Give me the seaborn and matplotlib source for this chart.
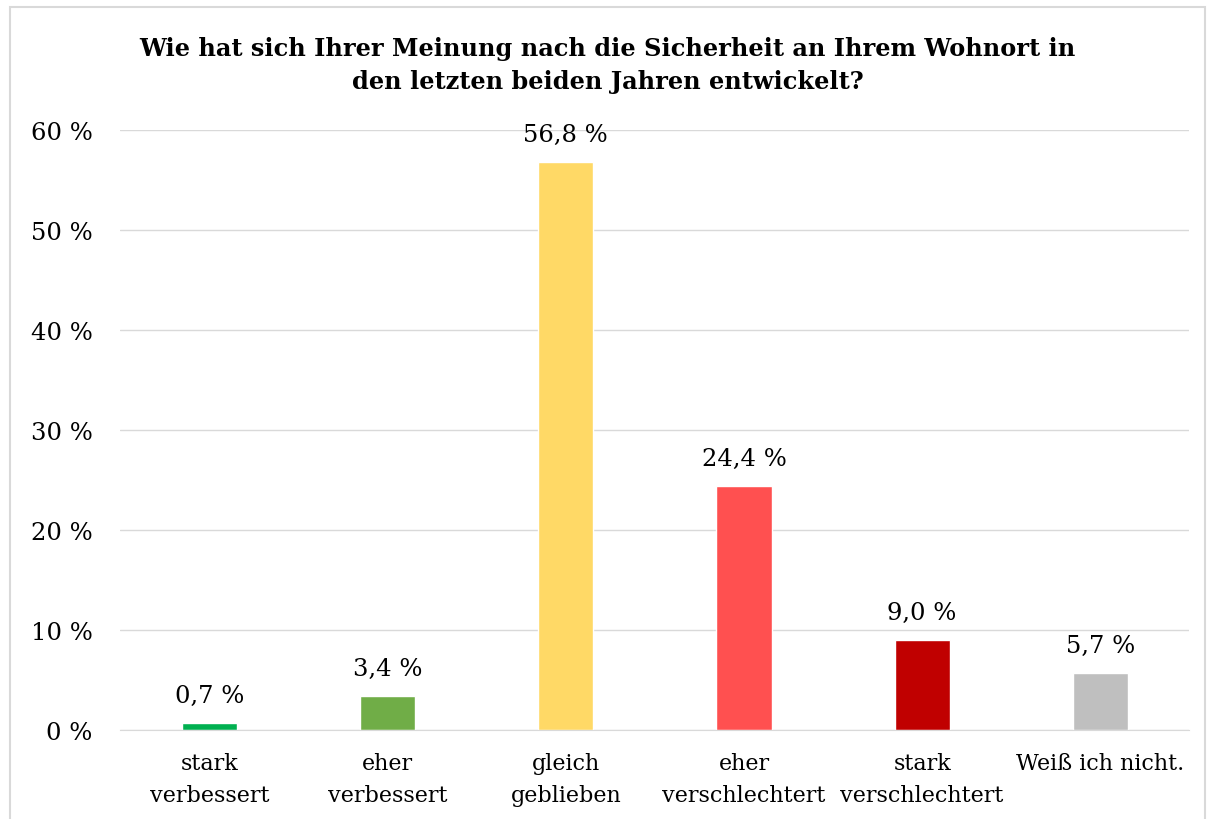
import matplotlib
matplotlib.use("Agg")
import matplotlib.pyplot as plt
import pandas as pd
import seaborn as sns

categories = ["stark\nverbessert", "eher\nverbessert", "gleich\ngeblieben",
              "eher\nverschlechtert", "stark\nverschlechtert", "Weiß ich nicht."]
values = [0.7, 3.4, 56.8, 24.4, 9.0, 5.7]
colors = ["#00B050", "#70AD47", "#FFD966", "#FF5050", "#C00000", "#BFBFBF"]
yticks = [0, 10, 20, 30, 40, 50, 60]
title = "Wie hat sich Ihrer Meinung nach die Sicherheit an Ihrem Wohnort in\nden letzten beiden Jahren entwickelt?"

sns.set_style("white")
plt.rcParams['font.family'] = ['DejaVu Serif']
plt.rcParams['text.color'] = "black"
plt.rcParams['xtick.color'] = "black"
plt.rcParams['ytick.color'] = "black"

df = pd.DataFrame({"Kategorie": categories, "Anteil": values})

fig = plt.figure(figsize=(12.15, 8.2), dpi=100)
ax = fig.add_axes([0.099, 0.1085, 0.88, 0.7315])
sns.barplot(data=df, x="Kategorie", y="Anteil", hue="Kategorie", palette=colors,
            legend=False, width=0.31, ax=ax, saturation=1)

ax.set_ylim(0, 60)
ax.set_yticks(yticks)
ax.set_yticklabels([f"{t} %" for t in yticks], fontsize=17.5)
ax.tick_params(axis="x", labelsize=16, length=0, pad=16)
ax.tick_params(axis="y", length=0, pad=20)
for lbl in ax.get_xticklabels():
    lbl.set_linespacing(1.55)
ax.set_xlabel("")
ax.set_ylabel("")
ax.grid(axis="y", color="#D9D9D9", linewidth=1)
ax.set_axisbelow(True)
for s in ["top", "right", "left"]:
    ax.spines[s].set_visible(False)
ax.spines["bottom"].set_color("#D9D9D9")

for i, v in enumerate(values):
    ax.text(i, v + 1.6, f"{v:.1f} %".replace(".", ","), ha="center", va="bottom", fontsize=17.5)

fig.text(0.5, 0.955, title, ha="center", va="top", fontsize=17.3, fontweight="bold",
         linespacing=1.5)

fig.patches.append(plt.Rectangle((10 / 1215, -0.01), 1195 / 1215, 1.0, transform=fig.transFigure,
                                 fill=False, edgecolor="#D9D9D9", linewidth=1.5))

fig.savefig("out.png", dpi=100)
